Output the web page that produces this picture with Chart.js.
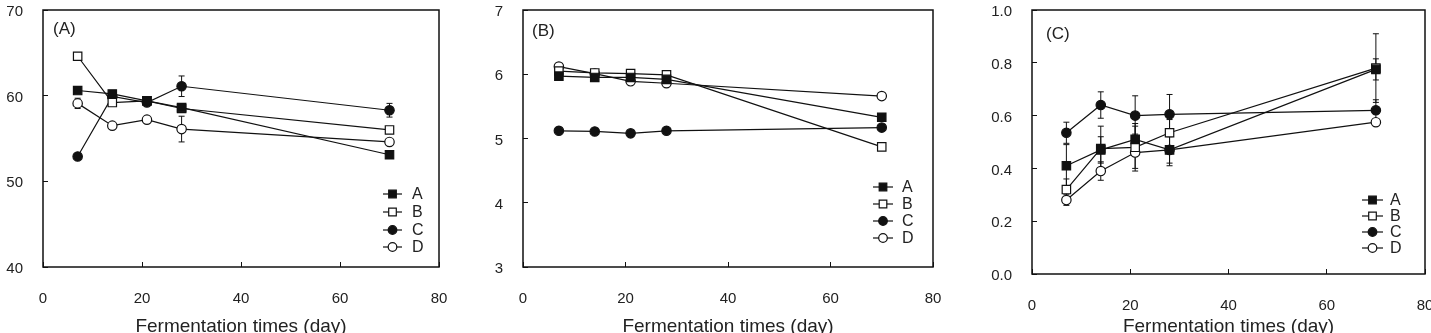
<!DOCTYPE html>
<html>
<head>
<meta charset="utf-8">
<script src="https://cdn.jsdelivr.net/npm/chart.js@4.4.1/dist/chart.umd.min.js"></script>
<style>
  html, body { margin: 0; padding: 0; background: #fff; }
  #wrap { position: relative; width: 1431px; height: 333px; overflow: hidden; }
  .panel { position: absolute; top: 0; height: 333px; }
</style>
</head>
<body>
<div id="wrap">
  <div class="panel" style="left:0;width:470px"><canvas id="chartA" width="470" height="333"></canvas></div>
  <div class="panel" style="left:477px;width:478px"><canvas id="chartB" width="478" height="333"></canvas></div>
  <div class="panel" style="left:977px;width:454px"><canvas id="chartC" width="454" height="333"></canvas></div>
</div>
<script>
// =================== DATA ===================
const days = [7, 14, 21, 28, 70];
const seriesNames = ["A", "B", "C", "D"];
const xTicks = [0, 20, 40, 60, 80];

// panel (A)
const panelLabelA = "(A)";
const yTicksA = [40, 50, 60, 70];
const aSeriesA = [60.6, 60.2, 59.4, 58.6, 53.1];
const aSeriesB = [64.6, 59.2, 59.4, 58.5, 56.0];
const aSeriesC = [52.9, 59.9, 59.2, 61.1, 58.3];
const aSeriesD = [59.1, 56.5, 57.2, 56.1, 54.6];
const aErrA = [0.2, 0.3, 0.2, 0.3, 0.3];
const aErrB = [0.3, 0.3, 0.3, 0.4, 0.3];
const aErrC = [0.3, 0.3, 0.3, 1.2, 0.8];
const aErrD = [0.6, 0.3, 0.3, 1.5, 0.3];

// panel (B)
const panelLabelB = "(B)";
const yTicksB = [3, 4, 5, 6, 7];
const bSeriesA = [5.97, 5.95, 5.95, 5.92, 5.33];
const bSeriesB = [6.05, 6.02, 6.01, 5.99, 4.87];
const bSeriesC = [5.12, 5.11, 5.08, 5.12, 5.17];
const bSeriesD = [6.12, 6.01, 5.89, 5.86, 5.66];
const bErrA = [0.03, 0.03, 0.03, 0.03, 0.04];
const bErrB = [0.03, 0.03, 0.03, 0.03, 0.03];
const bErrC = [0.03, 0.03, 0.03, 0.03, 0.04];
const bErrD = [0.03, 0.03, 0.03, 0.03, 0.03];

// panel (C)
const panelLabelC = "(C)";
const yTicksC = [0.0, 0.2, 0.4, 0.6, 0.8, 1.0];
const cSeriesA = [0.41, 0.47, 0.51, 0.47, 0.775];
const cSeriesB = [0.32, 0.475, 0.48, 0.535, 0.78];
const cSeriesC = [0.535, 0.64, 0.60, 0.605, 0.62];
const cSeriesD = [0.28, 0.39, 0.46, 0.47, 0.575];
const cErrA = [0.08, 0.05, 0.06, 0.05, 0.04];
const cErrB = [0.04, 0.085, 0.08, 0.05, 0.13];
const cErrC = [0.04, 0.05, 0.075, 0.075, 0.04];
const cErrD = [0.02, 0.035, 0.07, 0.06, 0.01];

const xTitle = "Fermentation times (day)";

// =================== STYLE ===================
const FONT = "'Liberation Sans', Arial, sans-serif";
const INK = "#111";
const markerStyles = [
  { shape: "rect", fill: INK },
  { shape: "rect", fill: "#fff" },
  { shape: "circle", fill: INK },
  { shape: "circle", fill: "#fff" }
];

function drawMarker(ctx, shape, fill, x, y) {
  ctx.save();
  ctx.fillStyle = fill;
  ctx.strokeStyle = INK;
  ctx.lineWidth = 1.2;
  ctx.beginPath();
  if (shape === "rect") {
    ctx.rect(x - 3.8, y - 3.8, 7.6, 7.6);
  } else {
    ctx.arc(x, y, 4.3, 0, Math.PI * 2);
  }
  ctx.fill();
  ctx.stroke();
  ctx.restore();
}

// frame, error bars, panel label, legend
const extrasPlugin = {
  id: "extras",
  beforeDatasetsDraw(chart, args, o) {
    const ctx = chart.ctx;
    const xs = chart.scales.x, ys = chart.scales.y;
    ctx.save();
    ctx.strokeStyle = INK;
    ctx.lineWidth = 1;
    chart.data.datasets.forEach((ds, i) => {
      const errs = o.errors[i];
      ds.data.forEach((p, j) => {
        const e = errs[j];
        if (!e) return;
        const x = xs.getPixelForValue(p.x);
        const y1 = ys.getPixelForValue(p.y + e);
        const y2 = ys.getPixelForValue(p.y - e);
        ctx.beginPath();
        ctx.moveTo(x, y1); ctx.lineTo(x, y2);
        ctx.moveTo(x - 3, y1); ctx.lineTo(x + 3, y1);
        ctx.moveTo(x - 3, y2); ctx.lineTo(x + 3, y2);
        ctx.stroke();
      });
    });
    ctx.restore();
  },
  afterDraw(chart, args, o) {
    const ctx = chart.ctx;
    const a = chart.chartArea;
    ctx.save();
    // box
    ctx.strokeStyle = INK;
    ctx.lineWidth = 1.5;
    ctx.strokeRect(a.left, a.top, a.right - a.left, a.bottom - a.top);
    // panel label
    ctx.fillStyle = "#222";
    ctx.font = "17px " + FONT;
    ctx.textBaseline = "middle";
    ctx.textAlign = "left";
    ctx.fillText(o.label, a.left + o.labelDx, a.top + o.labelDy);
    // legend
    const lg = o.legend;
    seriesNames.forEach((name, i) => {
      const y = a.bottom - lg.rows[i];
      const x0 = a.right - lg.x0, x1 = a.right - lg.x1;
      ctx.strokeStyle = INK;
      ctx.lineWidth = 1.2;
      ctx.beginPath();
      ctx.moveTo(x0, y); ctx.lineTo(x1, y);
      ctx.stroke();
      drawMarker(ctx, markerStyles[i].shape, markerStyles[i].fill, (x0 + x1) / 2, y);
      ctx.fillStyle = "#222";
      ctx.font = "16px " + FONT;
      ctx.fillText(name, a.right - lg.tx, y + 1);
    });
    ctx.restore();
  }
};

function noPad(s) {
  s.paddingTop = 0; s.paddingBottom = 0; s.paddingLeft = 0; s.paddingRight = 0;
}

function makePanel(id, series, errors, yTicks, decimals, cfg) {
  const datasets = series.map((vals, i) => ({
    label: seriesNames[i],
    data: days.map((d, j) => ({ x: d, y: vals[j] })),
    borderColor: INK,
    borderWidth: 1.2,
    tension: 0,
    pointStyle: markerStyles[i].shape,
    pointRadius: markerStyles[i].shape === "rect" ? 5.95 : 4.7,
    pointBackgroundColor: markerStyles[i].fill,
    pointBorderColor: INK,
    pointBorderWidth: 1.2,
    fill: false
  }));

  return new Chart(document.getElementById(id), {
    type: "line",
    data: { datasets },
    plugins: [extrasPlugin],
    options: {
      responsive: false,
      animation: false,
      layout: { autoPadding: false, padding: { top: 10, right: cfg.padRight, bottom: 0, left: 0 } },
      plugins: {
        legend: { display: false },
        tooltip: { enabled: false },
        extras: {
          errors,
          label: cfg.label,
          labelDx: cfg.labelDx,
          labelDy: cfg.labelDy,
          legend: cfg.legend
        }
      },
      scales: {
        x: {
          type: "linear",
          min: xTicks[0],
          max: xTicks[xTicks.length - 1],
          afterFit: (s) => { s.height = cfg.xHeight; noPad(s); },
          afterBuildTicks: (s) => { s.ticks = xTicks.map(v => ({ value: v })); },
          border: { display: false },
          grid: { drawOnChartArea: false, drawTicks: true, tickLength: -5, color: INK, lineWidth: 1 },
          ticks: { color: "#222", padding: 28, maxRotation: 0, font: { family: FONT, size: 15 } },
          title: {
            display: true,
            text: xTitle,
            color: "#222",
            padding: { top: 0, bottom: 0 },
            font: { family: FONT, size: 19, lineHeight: 0.66 }
          }
        },
        y: {
          type: "linear",
          min: yTicks[0],
          max: yTicks[yTicks.length - 1],
          afterFit: (s) => { s.width = cfg.yWidth; noPad(s); },
          afterBuildTicks: (s) => { s.ticks = yTicks.map(v => ({ value: v })); },
          border: { display: false },
          grid: { drawOnChartArea: false, drawTicks: true, tickLength: -5, color: INK, lineWidth: 1 },
          ticks: {
            color: "#222",
            padding: 25,
            labelOffset: 2,
            font: { family: FONT, size: 15 },
            callback: (v) => Number(v).toFixed(decimals)
          }
        }
      }
    }
  });
}

makePanel("chartA",
  [aSeriesA, aSeriesB, aSeriesC, aSeriesD],
  [aErrA, aErrB, aErrC, aErrD],
  yTicksA, 0,
  { padRight: 31, yWidth: 43, xHeight: 66, label: panelLabelA, labelDx: 10, labelDy: 19,
    legend: { x0: 56, x1: 37, tx: 27, rows: [73, 55, 37, 20] } });

makePanel("chartB",
  [bSeriesA, bSeriesB, bSeriesC, bSeriesD],
  [bErrA, bErrB, bErrC, bErrD],
  yTicksB, 0,
  { padRight: 22, yWidth: 46, xHeight: 66, label: panelLabelB, labelDx: 9, labelDy: 21,
    legend: { x0: 60, x1: 40, tx: 31, rows: [80, 63, 46, 29] } });

makePanel("chartC",
  [cSeriesA, cSeriesB, cSeriesC, cSeriesD],
  [cErrA, cErrB, cErrC, cErrD],
  yTicksC, 1,
  { padRight: 6, yWidth: 55, xHeight: 59, label: panelLabelC, labelDx: 14, labelDy: 24,
    legend: { x0: 63, x1: 42, tx: 35, rows: [74, 58, 42, 26] } });
</script>
</body>
</html>
